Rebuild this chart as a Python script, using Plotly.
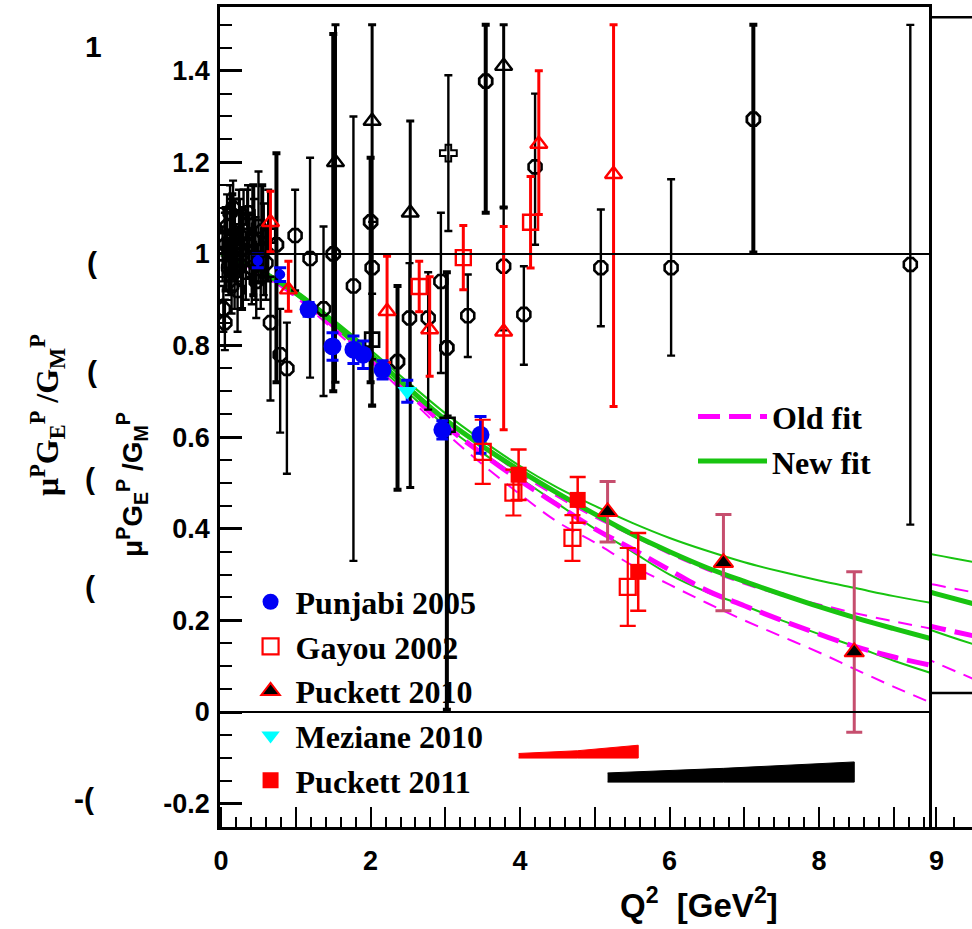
import plotly.graph_objects as go

# ---------------- data ----------------
# fit curves
FIT_Q2 = [0, 0.5, 1, 1.5, 2, 2.5, 3, 3.5, 4, 4.5, 5, 5.5, 6, 6.5, 7, 7.5, 8, 8.5, 9, 9.5]
NEW_FIT = [1.0, 0.965, 0.915, 0.85, 0.78, 0.708, 0.638, 0.58, 0.527, 0.478, 0.432, 0.388, 0.35, 0.315, 0.285, 0.257, 0.23, 0.205, 0.182, 0.16]
NEW_FIT_HI = [1.0, 0.968, 0.92, 0.857, 0.79, 0.72, 0.652, 0.592, 0.537, 0.49, 0.45, 0.413, 0.38, 0.352, 0.327, 0.306, 0.287, 0.27, 0.253, 0.238]
NEW_FIT_LO = [1.0, 0.962, 0.91, 0.842, 0.77, 0.697, 0.625, 0.565, 0.51, 0.455, 0.40, 0.35, 0.30, 0.262, 0.232, 0.2, 0.17, 0.142, 0.112, 0.085]
OLD_FIT = [1.0, 0.962, 0.91, 0.843, 0.773, 0.698, 0.625, 0.563, 0.505, 0.452, 0.40, 0.356, 0.31, 0.265, 0.232, 0.2, 0.17, 0.142, 0.12, 0.102]
OLD_FIT_HI = [1.0, 0.965, 0.915, 0.85, 0.78, 0.708, 0.64, 0.58, 0.52, 0.47, 0.425, 0.385, 0.345, 0.31, 0.28, 0.255, 0.235, 0.215, 0.198, 0.182]
OLD_FIT_LO = [1.0, 0.958, 0.905, 0.835, 0.765, 0.688, 0.61, 0.54, 0.475, 0.415, 0.37, 0.32, 0.278, 0.238, 0.2, 0.165, 0.13, 0.092, 0.055, 0.02]

# world data, black open octagons, thin error bars
OCT_X = [0.02, 0.03, 0.05, 0.08, 0.10, 0.12, 0.14, 0.16, 0.18, 0.20, 0.22, 0.25, 0.27, 0.30, 0.33, 0.36, 0.38, 0.41,
         0.44, 0.47, 0.50, 0.53, 0.57, 0.60,
         0.66, 0.79, 0.88, 0.99, 1.19, 1.37, 1.77, 2.02, 2.52, 2.77, 2.94, 3.30, 3.78, 4.05, 4.20, 5.08, 6.02, 9.22]
OCT_Y = [1.00, 0.88, 0.85, 1.06, 0.97, 1.09, 0.93, 1.10, 0.96, 0.99, 0.92, 1.04, 1.01, 1.05, 0.96, 1.09, 1.02, 0.97,
         1.03, 0.94, 1.06, 0.95, 1.01, 0.98,
         0.85, 0.78, 0.75, 1.04, 0.99, 0.88, 0.93, 0.97, 0.86, 0.86, 0.94, 0.865, 0.973, 0.868, 1.19, 0.97, 0.97, 0.977]
OCT_EP = [0.06, 0.05, 0.05, 0.07, 0.06, 0.06, 0.06, 0.06, 0.08, 0.05, 0.09, 0.08, 0.08, 0.09, 0.06, 0.06, 0.07, 0.08,
          0.09, 0.08, 0.12, 0.07, 0.1, 0.08,
          0.10, 0.10, 0.10, 0.10, 0.22, 0.18, 0.37, 0.10, 0.12, 0.10, 0.15, 0.09, 0.13, 0.105, 0.16, 0.127, 0.193, 0.523]
OCT_EM = [0.06, 0.05, 0.06, 0.07, 0.06, 0.06, 0.06, 0.06, 0.08, 0.05, 0.09, 0.08, 0.08, 0.09, 0.06, 0.06, 0.07, 0.08,
          0.09, 0.08, 0.12, 0.07, 0.1, 0.08,
          0.17, 0.17, 0.23, 0.12, 0.26, 0.19, 0.60, 0.20, 0.15, 0.20, 0.20, 0.09, 0.14, 0.11, 0.17, 0.128, 0.192, 0.568]

# world data, black open octagons, thick error bars
OCTK_X = [0.06, 0.15, 0.28, 0.43, 0.55, 0.74, 1.50, 2.00, 2.36, 3.02, 3.54, 7.12]
OCTK_Y = [1.02, 1.04, 1.00, 1.03, 1.05, 1.02, 1.00, 1.07, 0.765, 0.795, 1.377, 1.294]
OCTK_EP = [0.08, 0.09, 0.10, 0.12, 0.10, 0.20, 0.48, 0.14, 0.165, 0.165, 0.123, 0.206]
OCTK_EM = [0.10, 0.09, 0.12, 0.12, 0.10, 0.30, 0.30, 0.35, 0.28, 0.79, 0.287, 0.291]

# black open triangles
TRI_X = [0.18, 1.53, 2.02, 2.53, 3.78]
TRI_Y = [1.05, 1.20, 1.29, 1.09, 1.41]
TRI_EP = [0.07, 0.30, 0.21, 0.20, 0.09]
TRI_EM = [0.07, 0.48, 0.62, 0.60, 0.31]

# black open squares
SQ_X = [0.05, 0.12, 0.24, 0.35, 0.46, 0.63, 2.02, 3.03]
SQ_Y = [1.03, 1.02, 1.08, 1.07, 0.99, 1.04, 0.813, 0.627]
SQ_EP = [0.06, 0.10, 0.06, 0.07, 0.09, 0.10, 0.10, 0.02]
SQ_EM = [0.06, 0.10, 0.06, 0.07, 0.09, 0.10, 0.146, 0.02]

# black open cross
CR_X = [3.04]
CR_Y = [1.22]
CR_E = [0.17]

# red open triangles (Rosenbluth)
RTRI_X = [0.66, 0.90, 2.22, 2.79, 3.78, 4.25, 5.25]
RTRI_Y = [1.069, 0.922, 0.875, 0.835, 0.83, 1.24, 1.174]
RTRI_EP = [0.068, 0.062, 0.12, 0.115, 0.23, 0.16, 0.326]
RTRI_EM = [0.064, 0.047, 0.112, 0.102, 0.214, 0.154, 0.507]

# red open squares (Rosenbluth)
RSQ_X = [2.65, 3.24, 4.14]
RSQ_Y = [0.929, 0.992, 1.069]
RSQ_E = [0.055, 0.07, 0.10]

# polarization data
PUNJABI_X = [0.49, 0.79, 1.17, 1.49, 1.77, 1.90, 2.16, 2.96, 3.47]
PUNJABI_Y = [0.985, 0.955, 0.879, 0.798, 0.791, 0.78, 0.747, 0.616, 0.605]
PUNJABI_E = [0.015, 0.015, 0.015, 0.03, 0.03, 0.03, 0.02, 0.02, 0.04]
PUNJABI_SIZE = [10, 10, 18, 18, 18, 18, 18, 18, 18]

GAYOU_X = [3.50, 3.91, 4.70, 5.44]
GAYOU_Y = [0.568, 0.479, 0.38, 0.273]
GAYOU_E = [0.07, 0.05, 0.05, 0.085]

PUCKETT10_X = [5.17, 6.72, 8.47]
PUCKETT10_Y = [0.437, 0.326, 0.131]
PUCKETT10_E = [0.066, 0.105, 0.175]
PUCKETT10_SYS = [0.020, 0.030, 0.044]

MEZIANE_X = [2.49]
MEZIANE_Y = [0.70]
MEZIANE_E = [0.024]

PUCKETT11_X = [3.98, 4.77, 5.58]
PUCKETT11_Y = [0.518, 0.463, 0.306]
PUCKETT11_E = [0.055, 0.05, 0.085]
PUCKETT11_SYS = [0.010, 0.016, 0.028]

SYS11_BASE = -0.1005
SYS10_BASE = -0.153

Y_TICKS = [-0.2, 0, 0.2, 0.4, 0.6, 0.8, 1.0, 1.2, 1.4]
Y_TICKTEXT = ['-0.2', '0', '0.2', '0.4', '0.6', '0.8', '1', '1.2', '1.4']
X_TICKS = [0, 1, 2, 3, 4, 5, 6, 7, 8, 9]
X_TICKTEXT = ['0', '', '2', '', '4', '', '6', '', '8', '']

# ---------------- figure ----------------
GREEN = 'rgb(24,196,16)'
MAGENTA = 'rgb(255,0,255)'
MAUVE = 'rgb(198,78,110)'
BLUE = 'rgb(0,0,245)'
RED = 'rgb(255,0,0)'

fig = go.Figure()

curve_specs = [
    (OLD_FIT_HI, MAGENTA, 2, '14px,9px', None),
    (OLD_FIT_LO, MAGENTA, 2, '14px,9px', None),
    (NEW_FIT_HI, GREEN, 2, 'solid', None),
    (NEW_FIT_LO, GREEN, 2, 'solid', None),
    (OLD_FIT, MAGENTA, 5, '22px,9px', 'Old fit'),
    (NEW_FIT, GREEN, 5, 'solid', 'New fit'),
]
for ax in [('x', 'y'), ('x2', 'y2')]:
    for vals, col, w, dash, name in curve_specs:
        fig.add_trace(go.Scatter(
            x=FIT_Q2, y=vals, mode='lines', line=dict(color=col, width=w, dash=dash, shape='spline'),
            name=name if name else '', showlegend=(name is not None and ax[0] == 'x'),
            legend='legend2', xaxis=ax[0], yaxis=ax[1], hoverinfo='skip'))


# systematic bands
def band(xs, hs, base):
    px = list(xs) + list(xs[::-1])
    py = [base + h for h in hs] + [base] * len(xs)
    return px, py


bx, by = band(PUCKETT11_X, PUCKETT11_SYS, SYS11_BASE)
fig.add_trace(go.Scatter(x=bx, y=by, fill='toself', fillcolor=RED, mode='lines',
                         line=dict(color=RED, width=1), showlegend=False, hoverinfo='skip'))
bx, by = band(PUCKETT10_X, PUCKETT10_SYS, SYS10_BASE)
fig.add_trace(go.Scatter(x=bx, y=by, fill='toself', fillcolor='black', mode='lines',
                         line=dict(color='black', width=1), showlegend=False, hoverinfo='skip'))


def err(ep, em, color, th, w):
    return dict(type='data', symmetric=False, array=ep, arrayminus=em, color=color, thickness=th, width=w)


# black world data
fig.add_trace(go.Scatter(x=OCT_X, y=OCT_Y, mode='markers', showlegend=False,
                         marker=dict(symbol='octagon-open', size=14, color='black', line=dict(width=2.6)),
                         error_y=err(OCT_EP, OCT_EM, 'black', 2.4, 4)))
fig.add_trace(go.Scatter(x=OCTK_X, y=OCTK_Y, mode='markers', showlegend=False,
                         marker=dict(symbol='octagon-open', size=14, color='black', line=dict(width=2.8)),
                         error_y=err(OCTK_EP, OCTK_EM, 'black', 4, 4)))
fig.add_trace(go.Scatter(x=TRI_X, y=TRI_Y, mode='markers', showlegend=False,
                         marker=dict(symbol='triangle-up-open', size=15, color='black', line=dict(width=2.4)),
                         error_y=err(TRI_EP, TRI_EM, 'black', 3, 4)))
fig.add_trace(go.Scatter(x=SQ_X, y=SQ_Y, mode='markers', showlegend=False,
                         marker=dict(symbol='square-open', size=14, color='black', line=dict(width=2.6)),
                         error_y=err(SQ_EP, SQ_EM, 'black', 2.4, 4)))
fig.add_trace(go.Scatter(x=CR_X, y=CR_Y, mode='markers', showlegend=False,
                         marker=dict(symbol='cross-open', size=14, color='black', line=dict(width=2)),
                         error_y=dict(type='data', array=CR_E, color='black', thickness=2.4, width=4)))
# red Rosenbluth points
fig.add_trace(go.Scatter(x=RTRI_X, y=RTRI_Y, mode='markers', showlegend=False,
                         marker=dict(symbol='triangle-up-open', size=15, color=RED, line=dict(width=2.4)),
                         error_y=err(RTRI_EP, RTRI_EM, RED, 3, 4)))
fig.add_trace(go.Scatter(x=RSQ_X, y=RSQ_Y, mode='markers', showlegend=False,
                         marker=dict(symbol='square-open', size=15, color=RED, line=dict(width=2.4)),
                         error_y=dict(type='data', array=RSQ_E, color=RED, thickness=3, width=4)))

# legend data sets
fig.add_trace(go.Scatter(x=PUNJABI_X, y=PUNJABI_Y, mode='markers', name='Punjabi 2005',
                         marker=dict(symbol='circle', size=PUNJABI_SIZE, color=BLUE, opacity=1, line=dict(width=0)),
                         error_y=dict(type='data', array=PUNJABI_E, color=BLUE, thickness=3, width=6)))
fig.add_trace(go.Scatter(x=GAYOU_X, y=GAYOU_Y, mode='markers', name='Gayou 2002',
                         marker=dict(symbol='square-open', size=16, color=RED, line=dict(width=2.2)),
                         error_y=dict(type='data', array=GAYOU_E, color=RED, thickness=2.2, width=8)))
fig.add_trace(go.Scatter(x=PUCKETT10_X, y=PUCKETT10_Y, mode='markers', name='Puckett 2010',
                         marker=dict(symbol='triangle-up', size=17, color='black', line=dict(color=RED, width=2)),
                         error_y=dict(type='data', array=PUCKETT10_E, color=MAUVE, thickness=3, width=8)))
fig.add_trace(go.Scatter(x=MEZIANE_X, y=MEZIANE_Y, mode='markers', name='Meziane 2010',
                         marker=dict(symbol='triangle-down', size=17, color='rgb(0,255,255)'),
                         error_y=dict(type='data', array=MEZIANE_E, color=BLUE, thickness=3, width=6)))
fig.add_trace(go.Scatter(x=PUCKETT11_X, y=PUCKETT11_Y, mode='markers', name='Puckett 2011',
                         marker=dict(symbol='square', size=16, color=RED),
                         error_y=dict(type='data', array=PUCKETT11_E, color=RED, thickness=2.5, width=8)))

for i, tr in enumerate(fig.data):
    if tr.showlegend is not False and tr.legend != 'legend2':
        tr.legendgroup = 'g%d' % i
for i, tr in enumerate(fig.data):
    if tr.legend == 'legend2':
        tr.legendgroup = 'f%d' % i

tickfont = dict(family='Liberation Sans', size=27, color='black', weight='bold')
legfont = dict(family='Liberation Serif', size=32, color='black', weight='bold')

MAIN_R = 709 / 752
fig.update_layout(
    width=972, height=929, autosize=False,
    margin=dict(l=220, r=0, t=7, b=102, pad=0),
    paper_bgcolor='white', plot_bgcolor='white',
    xaxis=dict(domain=[0, MAIN_R], range=[-0.015, 9.47], showline=True, mirror=True, linecolor='black', linewidth=2.5,
               ticks='inside', ticklen=20, tickwidth=2, tickcolor='black', tickvals=X_TICKS, ticktext=X_TICKTEXT,
               tickfont=tickfont, ticklabelstandoff=8, showgrid=False, zeroline=False,
               minor=dict(dtick=0.2, ticks='inside', ticklen=10, tickwidth=2, tickcolor='black', showgrid=False)),
    yaxis=dict(range=[-0.251, 1.539], showline=True, mirror=True, linecolor='black', linewidth=2.5,
               ticks='inside', ticklen=22, tickwidth=2.5, tickcolor='black', tickvals=Y_TICKS, ticktext=Y_TICKTEXT,
               tickfont=tickfont, ticklabelstandoff=2, showgrid=False, zeroline=False,
               minor=dict(dtick=0.05, ticks='inside', ticklen=12, tickwidth=2, tickcolor='black', showgrid=False)),
    xaxis2=dict(domain=[(932 - 220) / 752, 1], range=[8.95, 9.4], anchor='y2', showline=True, linecolor='black',
                linewidth=2.5, ticks='inside', ticklen=20, tickwidth=2, tickcolor='black', tickvals=[9], ticktext=['9'],
                tickfont=tickfont, ticklabelstandoff=8, showgrid=False, zeroline=False,
                minor=dict(dtick=0.2, ticks='inside', ticklen=10, tickwidth=2, tickcolor='black', showgrid=False)),
    yaxis2=dict(domain=[0, 1], range=[-0.246, 1.259], anchor='x2', showline=False, showticklabels=False,
                ticks='', showgrid=False, zeroline=False),
    legend=dict(x=0.034, y=0.308, xanchor='left', yanchor='top', bgcolor='rgba(0,0,0,0)', font=legfont,
                itemwidth=40, tracegroupgap=4, traceorder='normal'),
    legend2=dict(x=0.629, y=0.534, xanchor='left', yanchor='top', bgcolor='rgba(0,0,0,0)', font=legfont,
                 itemwidth=69, tracegroupgap=4, traceorder='normal'),
    showlegend=True,
)

# reference lines
fig.add_shape(type='line', xref='x domain', x0=0, x1=1, yref='y', y0=1, y1=1, line=dict(color='black', width=2))
fig.add_shape(type='line', xref='x domain', x0=0, x1=1, yref='y', y0=0, y1=0, line=dict(color='black', width=2))
fig.add_shape(type='line', xref='x2 domain', x0=0, x1=1, yref='y2', y0=0, y1=0, line=dict(color='black', width=2.5))
fig.add_shape(type='line', xref='x2 domain', x0=0, x1=1, yref='y2', y0=1.24, y1=1.24, line=dict(color='black', width=2.5))

ytitle = 'μ<sup>P</sup>G<sub>E</sub><sup>P</sup> /G<sub>M</sub><sup>P</sup>'
fig.add_annotation(text=ytitle, xref='paper', yref='paper', x=(132 - 220) / 752, y=(827 - 485) / 820,
                   xanchor='center', yanchor='middle', textangle=-90, showarrow=False,
                   font=dict(family='Liberation Sans', size=28, color='black', weight='bold'))
fig.add_annotation(text=ytitle, xref='paper', yref='paper', x=(47 - 220) / 752, y=(827 - 415) / 820,
                   xanchor='center', yanchor='middle', textangle=-90, showarrow=False,
                   font=dict(family='Liberation Serif', size=32, color='black', weight='bold'))
fig.add_annotation(text='Q<sup>2</sup>  [GeV<sup>2</sup>]', xref='paper', yref='paper', x=(699 - 220) / 752,
                   y=(827 - 903) / 820, xanchor='center', yanchor='middle', showarrow=False,
                   font=dict(family='Liberation Sans', size=33, color='black', weight='bold'))

GHOST_TXT = ['1', '(', '(', '(', '(', '-(']
GHOST_PX = [93, 92, 92, 90, 90, 84]
GHOST_PY = [46, 262, 372, 478, 586, 798]
for t, gx, gy in zip(GHOST_TXT, GHOST_PX, GHOST_PY):
    fig.add_annotation(text=t, xref='paper', yref='paper', x=(gx - 220) / 752, y=(827 - gy) / 820,
                       xanchor='center', yanchor='middle', showarrow=False,
                       font=dict(family='Liberation Sans', size=30, color='black', weight='bold'))

fig.write_html('out.html')
